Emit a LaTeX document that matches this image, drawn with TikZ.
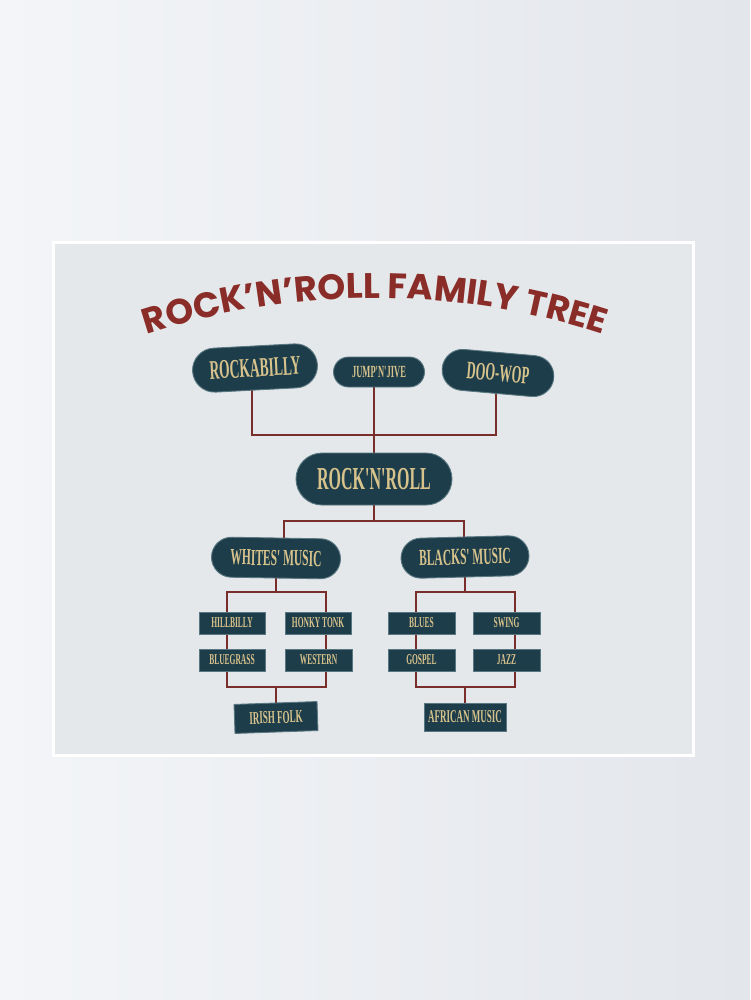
\documentclass[tikz,border=0pt]{standalone}
\usepackage{fontspec}
\usetikzlibrary{decorations.text}
\newfontfamily\titlefont{Poppins}
\newfontfamily\labfont[FakeStretch=0.5]{Liberation Serif}
\definecolor{titlered}{HTML}{8A2C27}
\definecolor{linered}{HTML}{7A2E2B}
\definecolor{teal}{HTML}{1E3D4A}
\definecolor{tealedge}{HTML}{587780}
\definecolor{gold}{HTML}{D8C38C}
\definecolor{poster}{HTML}{E4E8EB}
\definecolor{wallL}{HTML}{F3F5F8}
\definecolor{wallR}{HTML}{E3E6EB}
\pgfdeclarelayer{bg}
\pgfdeclarelayer{lines}
\pgfsetlayers{bg,lines,main}
\tikzset{
  tag/.style={fill=teal, draw=tealedge, line width=0.9pt, text=gold, inner sep=0pt, align=center},
  pill/.style n args={4}{tag, minimum width=#1, minimum height=#2, rounded corners=#3,
     font=\labfont\bfseries\fontsize{#4}{#4}\selectfont},
  box/.style n args={3}{tag, minimum width=#1, minimum height=#2,
     font=\labfont\bfseries\fontsize{#3}{#3}\selectfont},
  conn/.style={draw=linered, line width=1.8pt}
}
\begin{document}
\begin{tikzpicture}[x=1pt,y=1pt]
\useasboundingbox (0,0) rectangle (750,-1000);
\begin{pgfonlayer}{bg}
  \shade[left color=wallL, right color=wallR] (0,0) rectangle (750,-1000);
  \fill[white] (52,-241) rectangle (695,-757);
  \fill[poster] (55,-244) rectangle (692,-754);
\end{pgfonlayer}

% title
\path[decorate, decoration={text along path, text align=center,
  text={|\titlefont\bfseries\fontsize{35.5}{35.5}\selectfont\color{titlered}|ROCK’N’ROLL FAMILY TREE}}]
  (375,-1031) ++(111:733) arc[start angle=111, end angle=69, radius=733];

% top row
\node[pill={125pt}{44pt}{22pt}{27}, rotate=3] (rockab) at (255,-368) {ROCKABILLY};
\node[pill={91pt}{30pt}{15pt}{17}] (jump) at (379,-372) {JUMP'N'JIVE};
\node[pill={112pt}{41pt}{20.5pt}{25}, rotate=-5] (doowop) at (498,-373) {DOO-WOP};
\node[pill={156pt}{52pt}{26pt}{32}] (rnr) at (374,-479) {ROCK'N'ROLL};
\node[pill={129pt}{40pt}{20pt}{23}, rotate=-1] (whites) at (276,-558) {WHITES' MUSIC};
\node[pill={128pt}{40pt}{20pt}{23}, rotate=1.5] (blacks) at (465,-557) {BLACKS' MUSIC};

% left group
\node[box={66pt}{22pt}{15}] (hill) at (232,-623) {HILLBILLY};
\node[box={66pt}{22pt}{15}] (honky) at (318,-623) {HONKY TONK};
\node[box={66pt}{22pt}{15}] (blueg) at (232,-660) {BLUEGRASS};
\node[box={67pt}{22pt}{15}] (western) at (318.5,-660) {WESTERN};
\node[box={83pt}{29pt}{18}, rotate=2] (irish) at (276,-717.5) {IRISH FOLK};

% right group
\node[box={67pt}{22pt}{15}] (blues) at (421.5,-623) {BLUES};
\node[box={67pt}{22pt}{15}] (swing) at (506.5,-623) {SWING};
\node[box={67pt}{22pt}{15}] (gospel) at (421.5,-660) {GOSPEL};
\node[box={67pt}{22pt}{15}] (jazz) at (506.5,-660) {JAZZ};
\node[box={82pt}{28pt}{18}] (african) at (465,-717) {AFRICAN MUSIC};

% junction coordinates
\coordinate (t1) at (252,-435);
\coordinate (t3) at (496,-435);
\coordinate (m1) at (284,-521);
\coordinate (m2) at (464,-521);
\coordinate (wTL) at (227,-592);
\coordinate (wTR) at (326,-592);
\coordinate (wBL) at (227,-687);
\coordinate (wBR) at (326,-687);
\coordinate (bTL) at (416,-592);
\coordinate (bTR) at (515,-592);
\coordinate (bBL) at (416,-687);
\coordinate (bBR) at (515,-687);

\begin{pgfonlayer}{lines}
  \draw[conn] (t1 |- rockab.center) -- (t1) -- (t3) -- (t3 |- doowop.center);
  \draw[conn] (rnr.center |- jump.center) -- (rnr.center);
  \draw[conn] (rnr.center) -- (rnr.center |- m1);
  \draw[conn] (m1 |- whites.center) -- (m1) -- (m2) -- (m2 |- blacks.center);
  \draw[conn] (whites.center) -- (whites.center |- wTL);
  \draw[conn] (wTL) -- (wTR) -- (wBR) -- (wBL) -- cycle;
  \draw[conn] (irish.center) -- (irish.center |- wBL);
  \draw[conn] (blacks.center) -- (blacks.center |- bTL);
  \draw[conn] (bTL) -- (bTR) -- (bBR) -- (bBL) -- cycle;
  \draw[conn] (african.center) -- (african.center |- bBL);
\end{pgfonlayer}
\end{tikzpicture}
\end{document}
